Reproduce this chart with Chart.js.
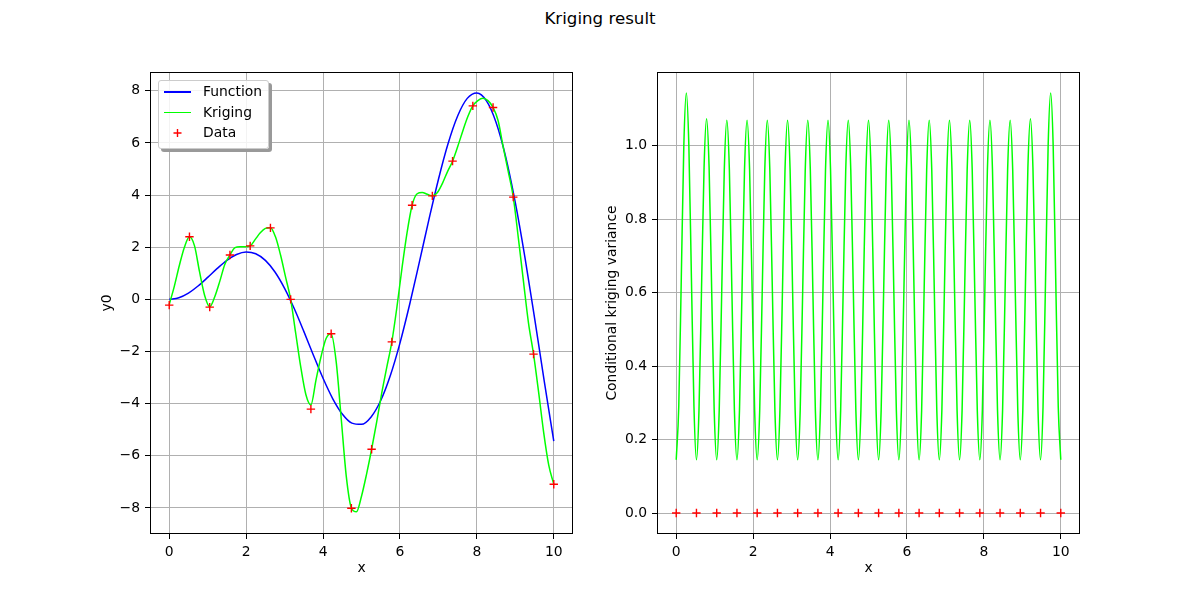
<!DOCTYPE html>
<html>
<head>
<meta charset="utf-8">
<script src="https://cdn.jsdelivr.net/npm/chart.js@4.4.1/dist/chart.umd.min.js"></script>
<style>
  body{margin:0;background:#fff;font-family:'DejaVu Sans',sans-serif;}
  #wrap{position:relative;width:1200px;height:600px;overflow:hidden;}
  canvas{position:absolute;top:0;}
  #titre{position:absolute;left:0;top:9px;width:1200px;text-align:center;font-size:16.67px;color:#000;}
  #legende{position:absolute;left:158px;top:80px;width:109px;height:67px;border:1px solid #ccc;border-radius:3px;background:rgba(255,255,255,0.85);box-shadow:3px 3px 0 #999;font-size:13.9px;}
  .item{position:absolute;left:0;height:20px;width:109px;}
  .item .trait{position:absolute;left:5px;top:9px;width:27px;height:1.5px;}
  .item .txt{position:absolute;left:44px;top:1px;color:#000;}
  .item .plus{position:absolute;left:14px;top:0;width:9px;height:20px;color:red;}
</style>
</head>
<body>
<div id="wrap">
  <div id="titre">Kriging result</div>
  <canvas id="gauche" width="600" height="600" style="left:0"></canvas>
  <canvas id="droite" width="600" height="600" style="left:600px"></canvas>
  <div id="legende"></div>
</div>
<script>
// valeurs
const xTicks = [0, 2, 4, 6, 8, 10];
const yTicksGauche = [-8, -6, -4, -2, 0, 2, 4, 6, 8];
const yTicksDroite = [0, 0.2, 0.4, 0.6, 0.8, 1.0];

const fonctionX = [0,0.25,0.5,0.75,1,1.25,1.5,1.75,2,2.25,2.5,2.75,3,3.25,3.5,3.75,4,4.25,4.5,4.75,5,5.25,5.5,5.75,6,6.25,6.5,6.75,7,7.25,7.5,7.75,8,8.25,8.5,8.75,9,9.25,9.5,9.75,10];
const fonctionY = [0,0.062,0.240,0.511,0.841,1.186,1.496,1.722,1.819,1.751,1.496,1.050,0.423,-0.352,-1.228,-2.144,-3.027,-3.804,-4.399,-4.747,-4.795,-4.509,-3.880,-2.922,-1.677,-0.207,1.398,3.038,4.599,5.968,7.035,7.708,7.915,7.613,6.787,5.466,3.709,1.612,-0.714,-3.115,-5.440];

const grilleX = [0,0.132,0.263,0.395,0.526,0.658,0.789,0.921,1.053,1.184,1.316,1.447,1.579,1.711,1.842,1.974,2.105,2.237,2.368,2.5,2.632,2.763,2.895,3.026,3.158,3.289,3.421,3.553,3.684,3.816,3.947,4.079,4.211,4.342,4.474,4.605,4.737,4.868,5.0,5.132,5.263,5.395,5.526,5.658,5.789,5.921,6.053,6.184,6.316,6.447,6.579,6.711,6.842,6.974,7.105,7.237,7.368,7.5,7.632,7.763,7.895,8.026,8.158,8.289,8.421,8.553,8.684,8.816,8.947,9.079,9.211,9.342,9.474,9.605,9.737,9.868,10];
const krigeageY = [-0.2,0.5,1.3,2.0,2.4,2.05,1.05,0.15,-0.28,0.1,0.7,1.35,1.7,1.98,2.02,2.02,2.05,2.3,2.55,2.72,2.75,2.4,1.7,0.85,0.0,-1.3,-2.6,-3.65,-4.05,-3.1,-2.2,-1.5,-1.32,-2.4,-4.6,-6.8,-8.0,-8.15,-7.55,-6.7,-5.75,-4.7,-3.6,-2.6,-1.63,-0.3,1.2,2.55,3.61,4.05,4.1,4.03,3.97,4.1,4.45,4.9,5.3,5.85,6.45,7.0,7.42,7.62,7.71,7.62,7.36,6.85,5.85,4.9,3.92,2.35,0.7,-0.9,-2.1,-3.55,-5.1,-6.35,-7.09];

const grilleFineX = [0,0.066,0.132,0.197,0.263,0.329,0.395,0.461,0.526,0.592,0.658,0.724,0.789,0.855,0.921,0.987,1.053,1.118,1.184,1.25,1.316,1.382,1.447,1.513,1.579,1.645,1.711,1.776,1.842,1.908,1.974,2.039,2.105,2.171,2.237,2.303,2.368,2.434,2.5,2.566,2.632,2.697,2.763,2.829,2.895,2.961,3.026,3.092,3.158,3.224,3.289,3.355,3.421,3.487,3.553,3.618,3.684,3.75,3.816,3.882,3.947,4.013,4.079,4.145,4.211,4.276,4.342,4.408,4.474,4.539,4.605,4.671,4.737,4.803,4.868,4.934,5.0,5.066,5.132,5.197,5.263,5.329,5.395,5.461,5.526,5.592,5.658,5.724,5.789,5.855,5.921,5.987,6.053,6.118,6.184,6.25,6.316,6.382,6.447,6.513,6.579,6.645,6.711,6.776,6.842,6.908,6.974,7.039,7.105,7.171,7.237,7.303,7.368,7.434,7.5,7.566,7.632,7.697,7.763,7.829,7.895,7.961,8.026,8.092,8.158,8.224,8.289,8.355,8.421,8.487,8.553,8.618,8.684,8.75,8.816,8.882,8.947,9.013,9.079,9.145,9.211,9.276,9.342,9.408,9.474,9.539,9.605,9.671,9.737,9.803,9.868,9.934,10];
const varianceY = [
  0.145,0.29,0.64,0.997,1.143,0.997,0.64,0.29,
  0.145,0.28,0.61,0.94,1.073,0.94,0.61,0.28,
  0.145,0.28,0.607,0.934,1.069,0.934,0.607,0.28,
  0.145,0.28,0.607,0.934,1.069,0.934,0.607,0.28,
  0.145,0.28,0.607,0.934,1.069,0.934,0.607,0.28,
  0.145,0.28,0.607,0.934,1.069,0.934,0.607,0.28,
  0.145,0.28,0.607,0.934,1.069,0.934,0.607,0.28,
  0.145,0.28,0.607,0.934,1.069,0.934,0.607,0.28,
  0.145,0.28,0.607,0.934,1.069,0.934,0.607,0.28,
  0.145,0.28,0.607,0.934,1.069,0.934,0.607,0.28,
  0.145,0.28,0.607,0.934,1.069,0.934,0.607,0.28,
  0.145,0.28,0.607,0.934,1.069,0.934,0.607,0.28,
  0.145,0.28,0.607,0.934,1.069,0.934,0.607,0.28,
  0.145,0.28,0.607,0.934,1.069,0.934,0.607,0.28,
  0.145,0.28,0.607,0.934,1.069,0.934,0.607,0.28,
  0.145,0.28,0.607,0.934,1.069,0.934,0.607,0.28,
  0.145,0.28,0.607,0.934,1.069,0.934,0.607,0.28,
  0.145,0.28,0.61,0.94,1.073,0.94,0.61,0.28,
  0.145,0.29,0.64,0.997,1.143,0.997,0.64,0.29,
  0.145];

const donneesX = [0,0.526,1.053,1.579,2.105,2.632,3.158,3.684,4.211,4.737,5.263,5.789,6.316,6.842,7.368,7.895,8.421,8.947,9.474,10];
const donneesY = [-0.22,2.40,-0.30,1.70,2.05,2.74,0.0,-4.21,-1.32,-8.01,-5.75,-1.63,3.61,3.97,5.30,7.42,7.36,3.92,-2.10,-7.09];
const donneesVar = [0,0,0,0,0,0,0,0,0,0,0,0,0,0,0,0,0,0,0,0];

Chart.defaults.font.family = "'DejaVu Sans', sans-serif";
Chart.defaults.font.size = 13.9;
Chart.defaults.color = '#000';

const pts = (xs, ys) => xs.map((x, i) => ({x: x, y: ys[i]}));
const moins = v => (v < 0 ? '\u2212' + Math.abs(v) : '' + v);

// cadre noir autour de la zone de tracé
const cadre = {
  id: 'cadre',
  afterDraw(chart){
    const a = chart.chartArea, c = chart.ctx;
    c.save(); c.strokeStyle = '#000'; c.lineWidth = 1;
    c.strokeRect(Math.round(a.left)+0.5, Math.round(a.top)+0.5, Math.round(a.right-a.left)-1, Math.round(a.bottom-a.top)-1);
    c.restore();
  }
};

function axeX(){
  return {
    type:'linear', min:-0.5, max:10.5,
    title:{display:true, text:'x', padding:{top:4,bottom:4}},
    grid:{color:'#b0b0b0', tickColor:'#000', tickLength:5},
    border:{display:false},
    ticks:{padding:5, maxRotation:0, callback:v=>moins(v)},
    afterBuildTicks: s => { s.ticks = xTicks.map(v => ({value:v})); },
    afterFit: s => { s.height = 47; }
  };
}

function options(yAxe, pad){
  return {
    responsive:false, animation:false, devicePixelRatio:1,
    layout:{padding:pad},
    plugins:{legend:{display:false}, tooltip:{enabled:false}},
    scales:{x:axeX(), y:yAxe}
  };
}

const grapheGauche = new Chart(document.getElementById('gauche').getContext('2d'), {
  type:'scatter',
  data:{datasets:[
    {label:'Function', data:pts(fonctionX, fonctionY), showLine:true, borderColor:'#0000ff', borderWidth:1.5, pointRadius:0, cubicInterpolationMode:'monotone', order:2},
    {label:'Kriging', data:pts(grilleX, krigeageY), showLine:true, borderColor:'#00ff00', borderWidth:1.5, pointRadius:0, cubicInterpolationMode:'monotone', order:1},
    {label:'Data', data:pts(donneesX, donneesY), showLine:false, pointStyle:'cross', pointRadius:4.2, borderColor:'#ff0000', backgroundColor:'#ff0000', pointBorderWidth:1.4, order:0}
  ]},
  options:options({
    type:'linear', min:-9.0, max:8.72,
    title:{display:true, text:'y0', padding:{top:4,bottom:4}},
    grid:{color:'#b0b0b0', tickColor:'#000', tickLength:5},
    border:{display:false},
    ticks:{padding:5, callback:v=>moins(v)},
    afterBuildTicks: s => { s.ticks = yTicksGauche.map(v => ({value:v})); },
    afterFit: s => { s.width = 55; }
  }, {left:95, right:27, top:72, bottom:19}),
  plugins:[cadre]
});

const grapheDroite = new Chart(document.getElementById('droite').getContext('2d'), {
  type:'scatter',
  data:{datasets:[
    {label:'Variance', data:pts(grilleFineX, varianceY), showLine:true, borderColor:'#00ff00', borderWidth:1.5, pointRadius:0, cubicInterpolationMode:'monotone', order:1},
    {label:'Data', data:pts(donneesX, donneesVar), showLine:false, pointStyle:'cross', pointRadius:4.2, borderColor:'#ff0000', backgroundColor:'#ff0000', pointBorderWidth:1.4, order:0}
  ]},
  options:options({
    type:'linear', min:-0.057, max:1.2,
    title:{display:true, text:'Conditional kriging variance', padding:{top:4,bottom:4}},
    grid:{color:'#b0b0b0', tickColor:'#000', tickLength:5},
    border:{display:false},
    ticks:{padding:5, callback:v=>v.toFixed(1)},
    afterBuildTicks: s => { s.ticks = yTicksDroite.map(v => ({value:v})); },
    afterFit: s => { s.width = 57; }
  }, {left:0, right:120, top:72, bottom:19}),
  plugins:[cadre]
});

// légende façon matplotlib (coin haut gauche)
const legende = document.getElementById('legende');
grapheGauche.data.datasets.forEach((d, i) => {
  const it = document.createElement('div');
  it.className = 'item'; it.style.top = (1 + i*20.7) + 'px';
  if (d.showLine){
    const t = document.createElement('div'); t.className = 'trait'; t.style.background = d.borderColor; it.appendChild(t);
  } else {
    const p = document.createElement('div'); p.className = 'plus';
    p.innerHTML = '<svg width="9" height="20"><path d="M0.5 10H8.5M4.5 6V14" stroke="red" stroke-width="1.4"/></svg>';
    it.appendChild(p);
  }
  const s = document.createElement('span'); s.className = 'txt'; s.textContent = d.label; it.appendChild(s);
  legende.appendChild(it);
});
</script>
</body>
</html>
